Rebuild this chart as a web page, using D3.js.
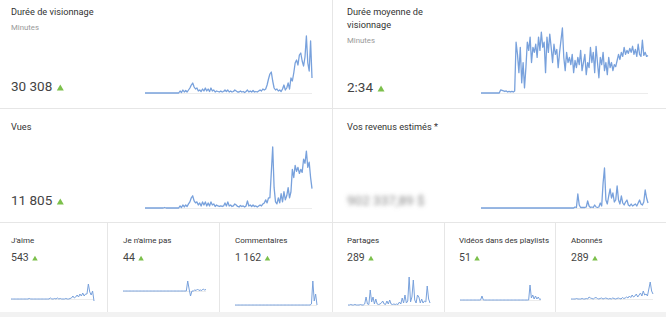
<!DOCTYPE html>
<html>
<head>
<meta charset="utf-8">
<script src="https://cdn.jsdelivr.net/npm/d3@7"></script>
<style>
  body { margin: 0; background: #fff; }
  svg { display: block; font-family: Roboto, "Noto Sans", sans-serif; }
</style>
</head>
<body>
<script>
// values read off the sparklines (arbitrary units, roughly px above baseline)
const dureeVisionnage = [
  0,0,0,0,0,0,0,0,0,0, 0,0,0,0,0,0,0,0,0,0, 0,0,0,0,0,2,0.5,3,1,2.5,
  1,3,5,8,10,6,4,5,2,3, 1.5,4,2,5,2,4,1.5,5,2,3, 1,2,1.5,1,2,1,1.5,3,1.5,3,
  1,2,1,1.5,3,2,1,1,2,1, 1.5,0.5,1.5,3,1,2,1,2.5,1,1.5, 1,2,3,2,4,3,4,8,14,19,
  21,12,5,3,4,2,3,1.5,4,8, 3,5,10,4,15,12,20,30,33,28, 38,40,32,27,36,57,30,22,52,15
];
const dureeMoyenne = [
  0,0,0,0,0,0,0,0,0,0, 0,0,0,0,3,2.5,2,1.5,2,1, 1.5,1,1.5,1,2,50,38,20,45,10,
  30,5,25,50,42,55,30,45,40,48, 35,55,42,60,45,50,20,55,40,58, 45,30,48,38,43,25,40,52,64,35,
  22,40,30,35,28,38,20,32,25,35, 28,42,22,30,38,18,30,25,45,30, 40,20,46,30,15,35,28,40,22,30,
  18,35,25,30,22,28,26,32,38,33, 40,36,45,38,42,39,44,40,46,38, 43,36,48,38,36,52,37,40,36,37
];
const vues = [
  0,0,0,0,0,0,0,0,0,0, 0,0,0,0,0.5,0,0,0,0,0, 0,0,0,0,0,2,0.5,3,1,3,
  1.5,4,6,10,12,7,5,6,3,5, 2,6,3,6,2,5,2,6,3,4, 1.5,3,2,1.5,2,1.5,2,5,2,6,
  2,3,1.5,2,4,3,1.5,1,2.5,1.5, 2,1,2,7,2,3,1.5,3,1.5,2, 1,2,3,2,4,5,8,5,10,10,
  35,60,20,6,4,10,5,14,6,16, 8,12,20,10,16,38,30,42,36,40, 34,38,35,48,44,56,40,45,30,19
];
const revenus = [
  0,0,0,0,0,0,0,0,0,0, 0,0,0,0,0,0,0,0,0,0, 0,0,0,0,0,0,0,0,0,0,
  0,0,0,0,0,0,0,0,0,0, 0,0,0,0,0,0,0,0,0,0, 0,0,0,0,0,0,0,0,0,0,
  0,0,0,0,0,0,0,1,0.5,14, 3,0.5,0.5,0.5,0.5,1,7,2,0.5,1, 0.5,3,1,0.5,1,5,2,25,40,8,
  4,12,19,10,15,6,8,22,8,4, 12,5,3,6,8,3,2,4,2,3, 4,2,5,8,4,3,6,18,10,5
];
const jaime = [
  0,0,0,0,0,0,0,0,0,0, 0,0,0,0.5,0,0,0,0,0,0, 0,0,0,0,0,0,0,0,1,0,
  0,0.5,0,1,0,0.5,0,0,0,0.5, 0,0,0.5,1,3,1,2,4,2,5, 3,6,3,5,5,15,7,4,8,-2
];
const jaimePas = [
  0,0,0,0,0,0,0,0,0,0, 0,0,0,0,0,0,0,0,0,0, 0,0,0,0,0,0,0,0,0,0,
  0,0,0,0,0,0,0,0,0,0, 0,0,0,0,0,0,10,2,-5,0, 0,1,0.5,2,0.5,1,0.5,2,1,1.5
];
const commentaires = [
  0,0,0,0,0,0,0,0,0,0, 0,0,0,0,0,0,0,0,0,0, 0,0,0,0,0,0,0,0,0,0,
  0,0,0,0,0,0,0,0,0,0, 0,0,0,0,0,0,0,0,0,0, 0,0,0,0,0,1,24,4,11,0
];
const partages = [
  0,0,0.5,0,0,0.5,0,0,0,0.5, 0,0,1,8,1,0.5,15,3,8,1, 6,1,0.5,1,2,4,1,0.5,4,1,
  5,1,0.5,1,0.5,1,0.5,3,1,7, 2,10,2,4,28,3,8,25,5,2, 10,8,2,6,2,4,3,19,6,2
];
const playlists = [
  0,0,0,0,0,0,0,0,0,0, 0,0,0,0,0,0,4,0,0,0, 0,0,0,0,0,0,0,0,0,0,
  0,0,0,0,0,0,0,0,0,0, 0,0,0,0,0,0,0,0,0,0, 0,15,2,5,1,4,1,3,0.5,1
];
const abonnes = [
  0,0,0,0,0.5,0,0,0,0.5,0, 0,0.5,0,2,1,0.5,0,1,1.5,0.5, 0,0.5,1,0,0.5,1,0.5,0,0.5,0,
  1,0.5,0,0.5,1,0.5,0,1.5,0.5,1, 2,1,3,1.5,4,2,3,5,2,4, 6,3,8,4,5,3,10,17,8,5
];

const titres = ["Durée de visionnage", "Durée moyenne de|visionnage", "Vues", "Vos revenus estimés *",
  "J'aime", "Je n'aime pas", "Commentaires", "Partages", "Vidéos dans des playlists", "Abonnés"];
const totaux = ["30 308", "2:34", "11 805", "902 337,89 $", "543", "44", "1 162", "289", "51", "289"];

const width = 666, height = 317;
const lineColor = "#78a1dc";

// layout: text position, chart box [x0, x1, yBottom, yTop]
const panels = [
  {data: dureeVisionnage, tx: 11, ty: 15, sub: "Minutes", subY: 30, vy: 91, big: true, box: [145, 312, 93, 36]},
  {data: dureeMoyenne, tx: 347, ty: 15, sub: "Minutes", subY: 43, vy: 92, big: true, box: [481, 648, 93, 28]},
  {data: vues, tx: 11, ty: 130, vy: 205, big: true, box: [145, 312, 208, 147]},
  {data: revenus, tx: 347, ty: 130, vy: 205, big: true, blur: true, box: [481, 648, 208, 168]},
  {data: jaime, tx: 11, ty: 243, vy: 261, box: [11, 94, 301, 284]},
  {data: jaimePas, tx: 123, ty: 243, vy: 261, box: [123, 206, 296, 281]},
  {data: commentaires, tx: 235, ty: 243, vy: 261, box: [235, 317, 305, 281]},
  {data: partages, tx: 347, ty: 243, vy: 261, box: [348, 430, 305, 277]},
  {data: playlists, tx: 459, ty: 243, vy: 261, box: [460, 541, 300, 285]},
  {data: abonnes, tx: 571, ty: 243, vy: 261, box: [571, 653, 299, 282]}
];

const svg = d3.select("body").append("svg")
    .attr("width", width)
    .attr("height", height);

const defs = svg.append("defs");
defs.append("filter").attr("id", "flou")
    .attr("x", "-20%").attr("y", "-50%").attr("width", "140%").attr("height", "200%")
  .append("feGaussianBlur").attr("stdDeviation", 2.2);

// card separators
svg.append("rect").attr("x", 0).attr("y", 312).attr("width", width).attr("height", 5).attr("fill", "#f2f2f2");
const sep = svg.append("g").attr("stroke", "#e6e6e6").attr("stroke-width", 1);
[108.5, 222.5].forEach(y => sep.append("line").attr("x1", 0).attr("x2", width).attr("y1", y).attr("y2", y));
sep.append("line").attr("x1", 332.5).attr("x2", 332.5).attr("y1", 0).attr("y2", 312);
[107.5, 219.5, 444.5, 555.5].forEach(x => sep.append("line").attr("x1", x).attr("x2", x).attr("y1", 222).attr("y2", 312));

panels.forEach((p, i) => {
  const g = svg.append("g");
  const [x0, x1, yb, yt] = p.box;

  // title (may wrap on two lines)
  titres[i].split("|").forEach((t, k) => {
    g.append("text")
        .attr("x", p.tx)
        .attr("y", p.ty + k * 13)
        .attr("font-size", p.big ? 9.2 : 8)
        .attr("fill", "#333")
        .text(t);
  });
  if (p.sub) {
    g.append("text")
        .attr("x", p.tx)
        .attr("y", p.subY)
        .attr("font-size", 7.8)
        .attr("fill", "#9a9a9a")
        .text(p.sub);
  }

  const val = g.append("text")
      .attr("x", p.tx)
      .attr("y", p.vy)
      .attr("font-size", p.big ? 13.5 : 10.5)
      .attr("fill", "#444")
      .text(totaux[i]);
  if (p.blur) {
    val.attr("fill", "#888").attr("filter", "url(#flou)");
  } else {
    const w = val.node().getComputedTextLength();
    const s = p.big ? 7 : 5.5;
    const tx = p.tx + w + (p.big ? 4.5 : 3.5);
    const ty = p.vy - 0.5;
    g.append("path")
        .attr("d", `M${tx},${ty} L${tx + s},${ty} L${tx + s / 2},${ty - s * 0.85} Z`)
        .attr("fill", "#7cc04b");
  }

  // sparkline
  const x = d3.scaleLinear().domain([0, p.data.length - 1]).range([x0, x1]);
  const y = d3.scaleLinear().domain([Math.min(0, d3.min(p.data)), d3.max(p.data)]).range([yb, yt]);

  g.append("line")
      .attr("x1", x0).attr("x2", x1)
      .attr("y1", y(0) + 0.5).attr("y2", y(0) + 0.5)
      .attr("stroke", "#ececec");

  g.append("path")
      .datum(p.data)
      .attr("fill", "none")
      .attr("stroke", lineColor)
      .attr("stroke-width", p.big ? 1.3 : 1)
      .attr("stroke-linejoin", "round")
      .attr("d", d3.line().x((d, j) => x(j)).y(d => y(d)));
});
</script>
</body>
</html>
